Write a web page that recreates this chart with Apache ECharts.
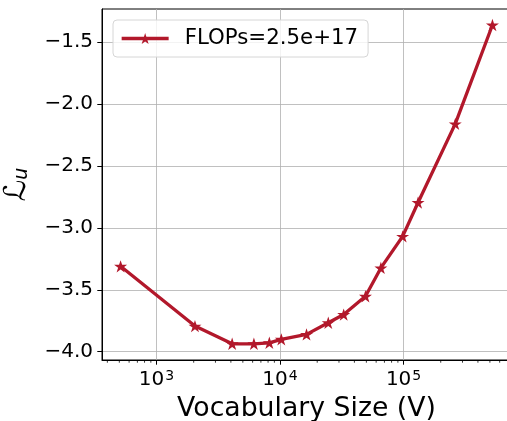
<!DOCTYPE html>
<html>
<head>
<meta charset="utf-8">
<script src="https://cdn.jsdelivr.net/npm/echarts@6/dist/echarts.min.js"></script>
<style>
html,body{margin:0;padding:0;background:#fff;}
#chart{width:507px;height:421px;}
</style>
</head>
<body>
<div id="chart"></div>
<script>
// ---- data ----
const seriesName = 'FLOPs=2.5e+17';
const vocabSizes = [512, 2048, 4096, 6144, 8192, 10240, 16384, 24576, 32768, 49152, 65536, 98304, 131072, 262144, 524288];
const lossValues = [-3.31, -3.793, -3.936, -3.936, -3.928, -3.90, -3.86, -3.766, -3.70, -3.552, -3.323, -3.068, -2.794, -2.159, -1.36];
const xMajorTicks = [1000, 10000, 100000];
const xMinorTicks = [400, 500, 600, 700, 800, 900,
  2000, 3000, 4000, 5000, 6000, 7000, 8000, 9000,
  20000, 30000, 40000, 50000, 60000, 70000, 80000, 90000,
  200000, 300000, 400000, 500000, 600000, 700000];
const yTicks = [-4.0, -3.5, -3.0, -2.5, -2.0, -1.5];

const xMin = 362, xMax = 741000;
const yMin = -4.067, yMax = -1.231;
const color = '#b2182b';
const FONT = 'DejaVu Sans';

function starPath() {
  let d = '';
  for (let k = 0; k < 10; k++) {
    const r = (k % 2 === 0) ? 1 : 0.382;
    const a = (-90 + k * 36) * Math.PI / 180;
    const x = (r * Math.cos(a)).toFixed(4), y = (r * Math.sin(a)).toFixed(4);
    d += (k === 0 ? 'M' : 'L') + x + ' ' + y + ' ';
  }
  return 'path://' + d + 'Z';
}
const STAR = starPath();

const chart = echarts.init(document.getElementById('chart'), null, {renderer: 'canvas'});
const fmtMinus = v => (v < 0 ? '\u2212' : '') + Math.abs(v).toFixed(1);

chart.setOption({
  animation: false,
  backgroundColor: '#fff',
  grid: {left: 102, top: 9, width: 409, height: 351, containLabel: false, outerBoundsMode: 'none',
    show: true, borderColor: '#000', borderWidth: 1, backgroundColor: 'transparent'},
  legend: {
    data: [seriesName],
    left: 113, top: 20,
    padding: [8, 10, 8, 7],
    itemWidth: 47, itemHeight: 14,
    backgroundColor: 'rgba(255,255,255,0.8)',
    borderColor: '#d6d6d6', borderWidth: 1, borderRadius: 4,
    lineStyle: {width: 3.3, color: color},
    textStyle: {fontFamily: FONT, fontSize: 21.3, color: '#000', padding: [0, 0, 0, 11]}
  },
  xAxis: {
    type: 'log', logBase: 10, min: xMin, max: xMax,
    name: 'Vocabulary Size (V)', nameLocation: 'middle', nameGap: 36,
    nameTextStyle: {fontFamily: FONT, fontSize: 26.7, color: '#000'},
    axisLine: {show: true, onZero: false, lineStyle: {color: '#000', width: 1}},
    axisTick: {show: true, inside: false, length: 4.7, lineStyle: {color: '#000', width: 1}, customValues: xMajorTicks},
    axisLabel: {
      customValues: xMajorTicks, margin: 9,
      fontFamily: FONT, fontSize: 20, color: '#000',
      formatter: v => '{b|10}{s|' + Math.round(Math.log10(v)) + '}',
      rich: {b: {fontFamily: FONT, fontSize: 20, color: '#000'}, s: {fontFamily: FONT, fontSize: 14, color: '#000', verticalAlign: 'top', padding: [0, 0, 8, 1]}}
    },
    splitLine: {show: true, lineStyle: {color: '#b0b0b0', width: 0.8}},
    minorTick: {show: false}
  },
  yAxis: {
    type: 'value', min: yMin, max: yMax, interval: 0.5,
    name: '{l|\u2112}{s|u}', nameLocation: 'middle', nameGap: 70, nameRotate: 90,
    nameTextStyle: {
      rich: {
        l: {fontFamily: FONT, fontSize: 30, color: '#000', lineHeight: 30},
        s: {fontFamily: FONT, fontSize: 19, fontStyle: 'italic', color: '#000', verticalAlign: 'bottom', padding: [8, 0, 0, 0]}
      }
    },
    axisLine: {show: true, onZero: false, lineStyle: {color: '#000', width: 1}},
    axisTick: {show: true, inside: false, length: 4.7, lineStyle: {color: '#000', width: 1}, customValues: yTicks},
    axisLabel: {customValues: yTicks, margin: 9, fontFamily: FONT, fontSize: 20, color: '#000', formatter: fmtMinus},
    splitLine: {show: true, lineStyle: {color: '#b0b0b0', width: 0.8}}
  },
  series: [
    {
      name: seriesName, type: 'line',
      data: vocabSizes.map((v, i) => [v, lossValues[i]]),
      symbol: STAR, symbolSize: 13, symbolKeepAspect: true,
      lineStyle: {color: color, width: 3.3},
      itemStyle: {color: color, borderWidth: 0},
      z: 5
    },
    {
      name: 'minor', type: 'custom', silent: true, clip: false,
      data: xMinorTicks.map(v => [v]),
      encode: {x: 0},
      renderItem: (params, api) => {
        const p = api.coord([api.value(0), yMin]);
        return {type: 'line', shape: {x1: p[0], y1: p[1], x2: p[0], y2: p[1] + 2.7}, style: {stroke: '#000', lineWidth: 0.8}};
      },
      z: 6
    }
  ]
});
</script>
</body>
</html>
